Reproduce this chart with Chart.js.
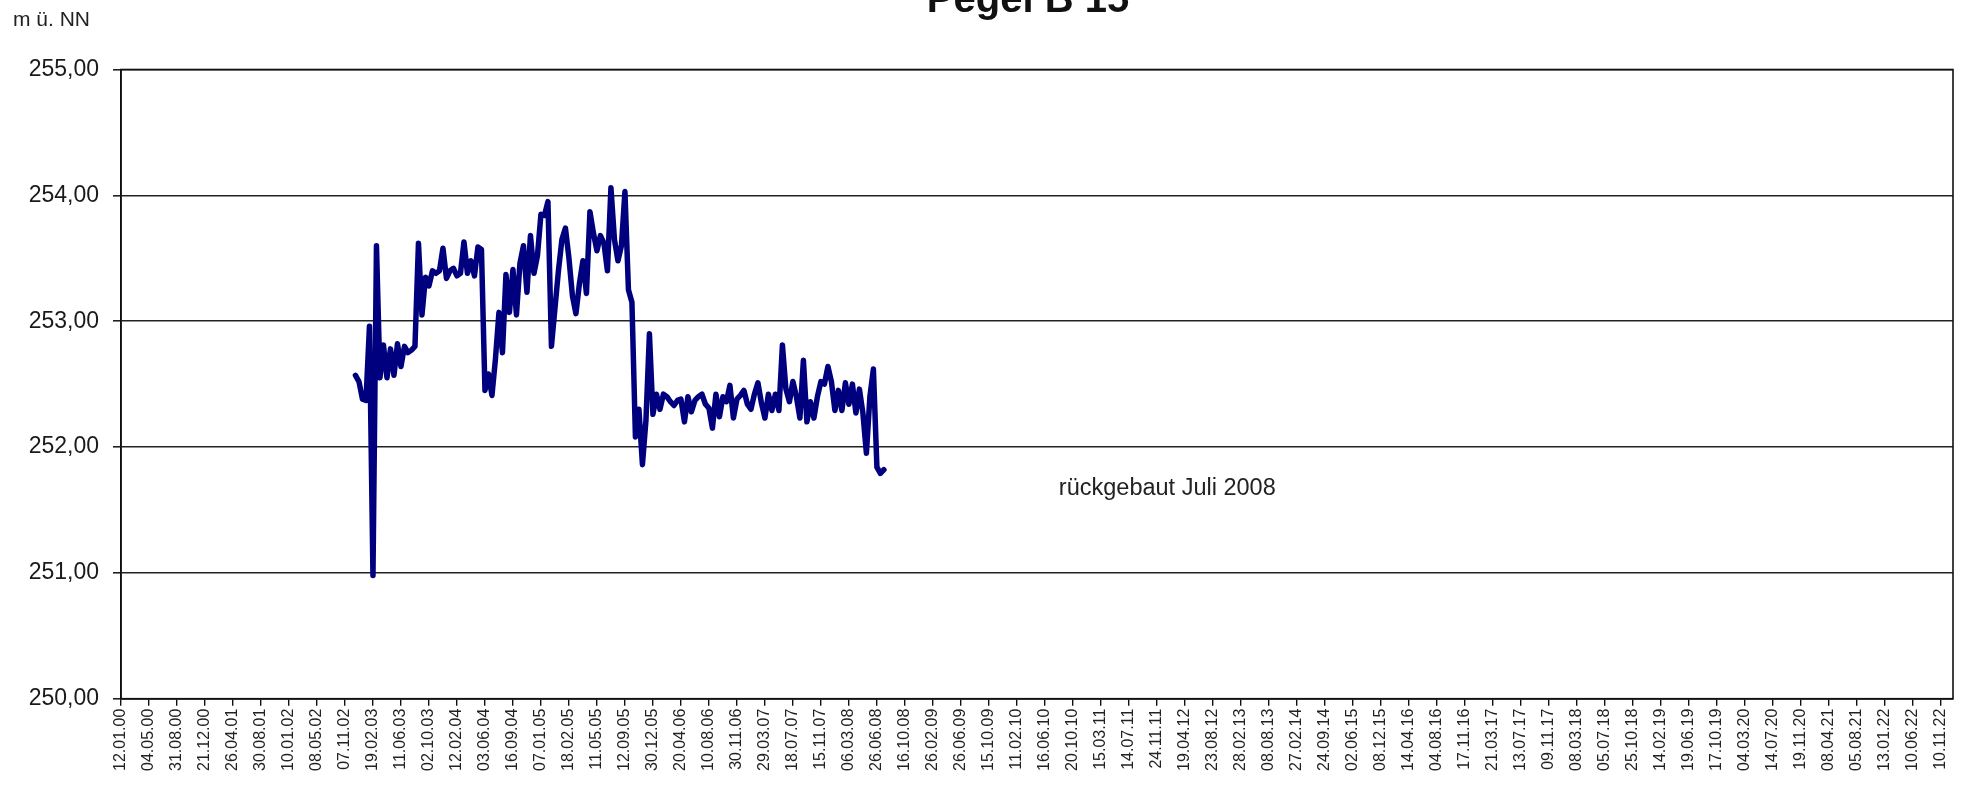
<!DOCTYPE html>
<html lang="de">
<head>
<meta charset="utf-8">
<title>Pegel B 15</title>
<script src="https://cdn.jsdelivr.net/npm/chart.js@4/dist/chart.umd.min.js"></script>
<style>
  html, body { margin: 0; padding: 0; background: #ffffff; }
  canvas { display: block; }
</style>
</head>
<body>
<canvas id="pegel" width="1978" height="786"></canvas>
<script>
// Beschriftete Messtermine der Rechtsachse (jeder achte Messpunkt)
const achsenTermine = [
  "12.01.00","04.05.00","31.08.00","21.12.00","26.04.01","30.08.01","10.01.02","08.05.02","07.11.02","19.02.03",
  "11.06.03","02.10.03","12.02.04","03.06.04","16.09.04","07.01.05","18.02.05","11.05.05","12.09.05","30.12.05",
  "20.04.06","10.08.06","30.11.06","29.03.07","18.07.07","15.11.07","06.03.08","26.06.08","16.10.08","26.02.09",
  "26.06.09","15.10.09","11.02.10","16.06.10","20.10.10","15.03.11","14.07.11","24.11.11","19.04.12","23.08.12",
  "28.02.13","08.08.13","27.02.14","24.09.14","02.06.15","08.12.15","14.04.16","04.08.16","17.11.16","21.03.17",
  "13.07.17","09.11.17","08.03.18","05.07.18","25.10.18","14.02.19","19.06.19","17.10.19","04.03.20","14.07.20",
  "19.11.20","08.04.21","05.08.21","13.01.22","10.06.22","10.11.22"
];

// Messpunkte je beschriftetem Abschnitt und Lage der ersten Messung
const messungenProAbschnitt = 8;
const ersteMessung = 67;
const letzteKategorie = 523.5;

// Wasserstand Pegel B 15 in m ü. NN (Dez. 2002 bis Juli 2008)
const wasserstand = [
  252.57, 252.52, 252.38, 252.37, 252.96, 250.98, 253.60, 252.55, 252.81, 252.55,
  252.78, 252.57, 252.82, 252.64, 252.80, 252.75, 252.77, 252.80, 253.62, 253.05,
  253.35, 253.28, 253.40, 253.38, 253.40, 253.58, 253.34, 253.40, 253.42, 253.36,
  253.38, 253.63, 253.38, 253.48, 253.36, 253.59, 253.57, 252.45, 252.58, 252.41,
  252.70, 253.07, 252.75, 253.37, 253.07, 253.41, 253.05, 253.46, 253.60, 253.23,
  253.68, 253.38, 253.52, 253.85, 253.84, 253.95, 252.80, 253.10, 253.40, 253.65,
  253.74, 253.50, 253.20, 253.06, 253.30, 253.48, 253.22, 253.87, 253.70, 253.56,
  253.68, 253.62, 253.40, 254.06, 253.65, 253.48, 253.60, 254.03, 253.25, 253.15,
  252.08, 252.30, 251.86, 252.21, 252.90, 252.26, 252.42, 252.30, 252.42, 252.40,
  252.36, 252.33, 252.37, 252.38, 252.20, 252.40, 252.28, 252.37, 252.40, 252.42,
  252.34, 252.31, 252.15, 252.42, 252.24, 252.40, 252.36, 252.49, 252.23, 252.38,
  252.41, 252.45, 252.34, 252.30, 252.42, 252.51, 252.35, 252.23, 252.42, 252.29,
  252.42, 252.29, 252.81, 252.46, 252.36, 252.52, 252.40, 252.23, 252.69, 252.20,
  252.36, 252.23, 252.40, 252.52, 252.50, 252.64, 252.52, 252.29, 252.45, 252.29,
  252.51, 252.34, 252.50, 252.27, 252.46, 252.27, 251.95, 252.40, 252.62, 251.84,
  251.79, 251.82
];

// Hinweis im Diagramm
const hinweisText = "rückgebaut Juli 2008";
const hinweisMessung = 268;
const hinweisWert = 251.67;

const schrift = "'Liberation Sans', Arial, Helvetica, sans-serif";

const punkte = wasserstand.map((w, i) => ({ x: ersteMessung + i, y: w }));

// Rahmen, Titel, Einheit und Hinweis
const beschriftung = {
  id: 'beschriftung',
  afterDraw(chart) {
    const { ctx, chartArea: a, scales } = chart;
    ctx.save();
    ctx.strokeStyle = '#111111';
    ctx.lineWidth = 1.6;
    ctx.strokeRect(a.left, a.top, a.right - a.left, a.bottom - a.top);

    ctx.fillStyle = '#111111';
    ctx.textBaseline = 'alphabetic';
    ctx.textAlign = 'center';
    ctx.font = "bold 40px " + schrift;
    ctx.fillText('Pegel B 15', 1028, 12);

    ctx.textAlign = 'left';
    ctx.font = "21px " + schrift;
    ctx.fillStyle = '#222222';
    ctx.fillText('m ü. NN', 13, 26);

    ctx.font = "23.5px " + schrift;
    ctx.textBaseline = 'middle';
    ctx.fillText(hinweisText,
      scales.x.getPixelForValue(hinweisMessung),
      scales.y.getPixelForValue(hinweisWert));
    ctx.restore();
  }
};

new Chart(document.getElementById('pegel'), {
  type: 'line',
  data: {
    datasets: [{
      label: 'Pegel B 15',
      data: punkte,
      borderColor: '#00007f',
      borderWidth: 5.5,
      pointRadius: 0,
      tension: 0,
      borderJoinStyle: 'round',
      borderCapStyle: 'round',
      fill: false
    }]
  },
  options: {
    responsive: false,
    animation: false,
    devicePixelRatio: 1,
    layout: { padding: { left: 0, top: 69.5, right: 25, bottom: 0 } },
    plugins: {
      legend: { display: false },
      title: { display: false },
      tooltip: { enabled: false }
    },
    scales: {
      x: {
        type: 'linear',
        min: 0,
        max: letzteKategorie,
        afterFit(s) { s.height = 87.3; },
        border: { display: true, color: '#111111', width: 1.6 },
        grid: {
          drawOnChartArea: false,
          drawTicks: true,
          tickLength: 7,
          color: '#111111',
          lineWidth: 1.4
        },
        ticks: {
          stepSize: messungenProAbschnitt,
          includeBounds: false,
          autoSkip: false,
          minRotation: 90,
          maxRotation: 90,
          padding: 3,
          color: '#222222',
          font: { family: schrift, size: 16 },
          callback: (v) => achsenTermine[Math.round(v / messungenProAbschnitt)]
        }
      },
      y: {
        min: 250,
        max: 255,
        afterFit(s) { s.width = 121; },
        border: { display: true, color: '#111111', width: 1.6 },
        grid: {
          color: '#222222',
          lineWidth: 1.6,
          tickLength: 8
        },
        ticks: {
          stepSize: 1,
          padding: 14,
          color: '#1a1a1a',
          font: { family: schrift, size: 23 },
          callback: (v) => v.toFixed(2).replace('.', ',')
        }
      }
    }
  },
  plugins: [beschriftung]
});
</script>
</body>
</html>
